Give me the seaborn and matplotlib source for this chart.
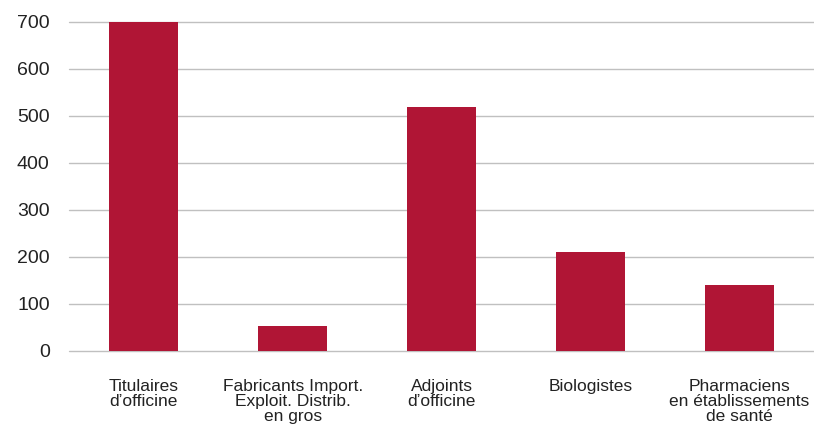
import matplotlib
matplotlib.use("Agg")
import matplotlib.pyplot as plt
import pandas as pd
import seaborn as sns

categories = ["Titulaires\nd’officine",
              "Fabricants Import.\nExploit. Distrib.\nen gros",
              "Adjoints\nd’officine",
              "Biologistes",
              "Pharmaciens\nen établissements\nde santé"]
values = [700, 54, 518, 211, 141]
yticks = [0, 100, 200, 300, 400, 500, 600, 700]

df = pd.DataFrame({"categorie": categories, "effectif": values})

sns.set_style("white")
plt.rcParams["font.family"] = ["Liberation Sans Narrow", "Liberation Sans", "DejaVu Sans"]

fig = plt.figure(figsize=(8.14, 4.28), dpi=100)
ax = fig.add_axes([0.085, 0.18, 0.915, 0.769])

sns.barplot(data=df, x="categorie", y="effectif", color="#B01535",
            saturation=1, width=0.46, linewidth=0, ax=ax, zorder=3)

ax.set_ylim(0, 700)
ax.set_yticks(yticks)
ax.set_yticklabels([str(t) for t in yticks], fontsize=14,
                   family=["Liberation Sans", "DejaVu Sans"], color="#222222")
ax.grid(axis="y", color="#c0c0c0", linewidth=1, zorder=0)
for gl in ax.get_ygridlines():
    gl.set_clip_on(False)
ax.set_axisbelow(True)
for s in ax.spines.values():
    s.set_visible(False)
ax.tick_params(axis="y", length=0, pad=14)
ax.tick_params(axis="x", length=0, pad=20, labelsize=12.5, labelcolor="#222222")
for lab in ax.get_xticklabels():
    lab.set_linespacing(1.0)
ax.set_xlabel("")
ax.set_ylabel("")

fig.savefig("out.png", dpi=100)
